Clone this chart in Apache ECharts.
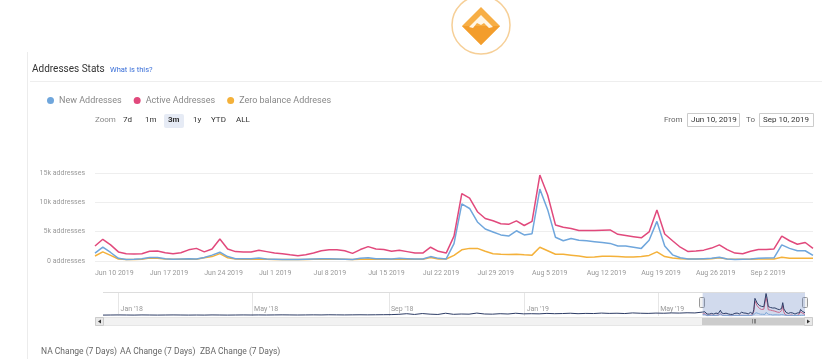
<!DOCTYPE html>
<html><head><meta charset="utf-8">
<script src="https://cdn.jsdelivr.net/npm/echarts@6/dist/echarts.min.js"></script>
<style>html,body{margin:0;padding:0;background:#fff}#c{width:831px;height:359px}</style>
</head><body><div id="c"></div>
<script>
// ---- data ----
var startDate = '2019-06-10';
var activeAddresses = [2550,3700,2750,1550,1250,1200,1250,1650,1700,1400,1250,1400,1900,2150,1550,2050,3750,2050,1600,1550,1550,1850,1600,1350,1250,1050,900,1050,1350,1750,1900,1900,1750,1300,1950,2450,2050,1950,1650,1850,1600,1350,1350,2350,1650,1350,4250,11500,10700,8400,7250,6850,6350,6250,6850,6050,6750,14650,11250,6150,5750,5550,5200,5200,5200,5250,5300,4550,4350,4150,3950,4950,8700,4600,3450,2350,1600,1700,1850,2200,2750,1950,1350,1250,1650,1950,1950,2050,4250,3450,2850,3150,2150];
var newAddresses = [1350,2350,1450,450,250,300,400,600,600,400,300,350,400,350,600,1000,1500,750,400,400,400,500,350,300,250,250,250,300,350,400,400,350,300,250,450,550,400,400,350,450,400,350,350,750,450,350,2950,9750,8950,6650,5450,4950,4450,4250,5150,4450,4650,12250,8750,4050,3450,3850,3550,3450,3300,3150,3000,2550,2550,2350,2150,3550,6750,2550,1050,550,350,350,400,450,650,350,250,300,350,450,500,550,2750,2150,1750,1750,950];
var zeroBalance = [850,1550,950,350,250,250,300,500,450,350,300,300,300,300,550,750,1250,550,350,300,300,350,300,250,250,250,250,250,300,300,300,300,300,250,300,350,300,300,300,350,300,300,300,600,350,350,950,1900,2150,2150,1650,1250,1150,1100,1150,1050,1000,2350,1750,1150,1150,1000,850,650,700,800,800,750,700,700,750,950,1550,750,500,400,350,350,350,400,550,350,300,300,300,350,350,350,650,450,450,450,450];
var seriesNames = ['New Addresses','Active Addresses','Zero balance Addreses'];
var yTicks = [0,5000,10000,15000];
// navigator history (weekly active addresses, Dec 18 2017 .. Jun 3 2019)
var navHistoryStart = '2017-12-18';
var navHistory = [600,650,700,650,600,700,650,600,650,700,650,600,650,600,700,650,600,650,700,650,700,650,700,750,700,650,700,750,700,800,750,700,750,800,750,800,850,900,1100,1500,1000,1600,1200,1000,1800,1100,1300,1200,1900,1300,1200,1500,1300,1800,1400,1500,1400,1700,1500,1600,1800,1500,1700,1600,1900,1700,1800,1600,2000,1800,1700,1900,1800,2000,1900,2100,2000];
var navTicks = ['2018-01-01','2018-05-01','2018-09-01','2019-01-01','2019-05-01'];
var zoomButtons = ['7d','1m','3m','1y','YTD','ALL'];
var bottomTexts = ['NA Change (7 Days)','AA Change (7 Days)','ZBA Change (7 Days)'];

var MON = ['Jan','Feb','Mar','Apr','May','Jun','Jul','Aug','Sep','Oct','Nov','Dec'];
var DAY = 86400000;
var t0 = Date.parse(startDate + 'T00:00:00Z');
var categories = activeAddresses.map(function(_, i){ var d = new Date(t0 + i*DAY); return MON[d.getUTCMonth()] + ' ' + d.getUTCDate() + ' ' + d.getUTCFullYear(); });
var h0 = Date.parse(navHistoryStart + 'T00:00:00Z');
var navDark = navHistory.map(function(v,i){ return [h0 + i*7*DAY, v]; }).concat(activeAddresses.map(function(v,i){ return [t0 + i*DAY, v]; }));
var navNew = newAddresses.map(function(v,i){ return [t0 + i*DAY, v]; });
var navZero = zeroBalance.map(function(v,i){ return [t0 + i*DAY, v]; });
var tEnd = t0 + (activeAddresses.length-1)*DAY;
var navTickValues = navTicks.map(function(s){ return Date.parse(s + 'T00:00:00Z'); });

var FONT = 'Roboto';
var colors = ['#6fa6dc','#e1497c','#f4b13a'];

var chart = echarts.init(document.getElementById('c'), null, {renderer:'canvas'});

var graphics = [
  // logo
  {type:'circle', shape:{cx:481, cy:25, r:29}, style:{fill:'#fff', stroke:'#f6cf97', lineWidth:1.5}},
  {type:'polygon', shape:{points:[[481,7],[500,26],[481,45],[462,26]]}, style:{fill:'#f7ae45'}},
  {type:'polygon', shape:{points:[[462,26],[500,26],[481,45]]}, style:{fill:'#f39d2c'}},
  {type:'polygon', shape:{points:[[469,27],[481,15],[493,27],[489,28],[484,23],[481,25],[477,23],[473,28]]}, style:{fill:'#fff6e6'}},
  // frame lines
  {type:'line', shape:{x1:27.5, y1:52, x2:27.5, y2:359}, style:{stroke:'#ececec', lineWidth:1}},
  {type:'line', shape:{x1:30, y1:81.5, x2:822, y2:81.5}, style:{stroke:'#eeeeee', lineWidth:1}},
  // title
  {type:'text', left:32, top:64, style:{text:'Addresses Stats', font:'10px ' + FONT, fill:'#333'}},
  {type:'text', left:110, top:66, style:{text:'What is this?', font:'7.5px ' + FONT, fill:'#3a6fd8'}},
  // zoom row
  {type:'text', left:95, top:116, style:{text:'Zoom', font:'8px ' + FONT, fill:'#888'}},
  {type:'rect', shape:{x:164, y:114, width:20, height:14, r:2}, style:{fill:'#e6ebf5'}},
  // from/to
  {type:'text', left:664, top:116, style:{text:'From', font:'8px ' + FONT, fill:'#666'}},
  {type:'rect', shape:{x:687.5, y:113.5, width:52, height:13}, style:{fill:'#fff', stroke:'#cccccc'}},
  {type:'text', left:691, top:116, style:{text:'Jun 10, 2019', font:'8px ' + FONT, fill:'#333'}},
  {type:'text', left:746, top:116, style:{text:'To', font:'8px ' + FONT, fill:'#666'}},
  {type:'rect', shape:{x:759.5, y:113.5, width:54, height:13}, style:{fill:'#fff', stroke:'#cccccc'}},
  {type:'text', left:763, top:116, style:{text:'Sep 10, 2019', font:'8px ' + FONT, fill:'#333'}},
  // scrollbar
  {type:'rect', shape:{x:95.5, y:317.5, width:717, height:8}, style:{fill:'#f2f2f2', stroke:'#e6e6e6'}},
  {type:'rect', shape:{x:95.5, y:317.5, width:8, height:8}, style:{fill:'#e8e8e8', stroke:'#cccccc'}},
  {type:'polygon', shape:{points:[[98,321.5],[101,319.5],[101,323.5]]}, style:{fill:'#333'}},
  {type:'rect', shape:{x:804.5, y:317.5, width:8, height:8}, style:{fill:'#e8e8e8', stroke:'#cccccc'}},
  {type:'polygon', shape:{points:[[810,321.5],[807,319.5],[807,323.5]]}, style:{fill:'#333'}},
  {type:'rect', shape:{x:702, y:318, width:103, height:7}, style:{fill:'#cccccc'}},
  {type:'text', left:752, top:318, style:{text:'|||', font:'6px ' + FONT, fill:'#333'}},
  // navigator frame
  {type:'line', shape:{x1:103, y1:292.5, x2:805, y2:292.5}, style:{stroke:'#dddddd', lineWidth:1}},
  // handles
  {type:'rect', shape:{x:699.5, y:297.5, width:5, height:10, r:1}, style:{fill:'#f2f2f2', stroke:'#999'}},
  {type:'rect', shape:{x:802.5, y:297.5, width:5, height:10, r:1}, style:{fill:'#f2f2f2', stroke:'#999'}}
];
var zx = [123, 145, 168, 193, 211, 236];
zoomButtons.forEach(function(b, i){
  graphics.push({type:'text', left:zx[i], top:116, style:{text:b, font:(b==='3m'?'bold ':'') + '8px ' + FONT, fill:'#333'}});
});
var bx = [41, 120, 200];
bottomTexts.forEach(function(t, i){
  graphics.push({type:'text', left:bx[i], top:347, style:{text:t, font:'8.5px ' + FONT, fill:'#666'}});
});

var option = {
  animation:false,
  color: colors,
  textStyle:{fontFamily:FONT},
  legend:{left:42, top:91, icon:'circle', itemWidth:7, itemHeight:7, itemGap:12,
    textStyle:{fontSize:9, color:'#888', fontFamily:FONT}, data:seriesNames},
  grid:[
    {left:95, right:18, top:173, bottom:98},
    {left:103, right:26, top:293, height:23}
  ],
  xAxis:[
    {type:'category', gridIndex:0, data:categories, boundaryGap:false,
     axisLine:{show:false}, axisTick:{show:false}, splitLine:{show:false},
     axisLabel:{fontSize:7, color:'#999', align:'left', margin:9, fontFamily:FONT,
       interval:function(i){ return i%7===0 && i<=84; }}},
    {type:'value', gridIndex:1, min:h0, max:tEnd,
     axisLine:{show:false}, splitLine:{show:false},
     axisTick:{show:true, inside:true, length:23, customValues:navTickValues, lineStyle:{color:'#e6e6e6'}},
     axisLabel:{show:true, inside:true, margin:3, align:'left', fontSize:7, color:'#999', fontFamily:FONT,
       customValues:navTickValues,
       formatter:function(v){ var d=new Date(v); return MON[d.getUTCMonth()] + " '" + String(d.getUTCFullYear()).slice(2); },
       padding:[0,0,0,2]}}
  ],
  yAxis:[
    {type:'value', gridIndex:0, min:yTicks[0], max:yTicks[yTicks.length-1], interval:5000,
     axisLine:{show:false}, axisTick:{show:false},
     splitLine:{lineStyle:{color:'#eeeeee'}},
     axisLabel:{fontSize:7, color:'#999', margin:10, fontFamily:FONT, padding:[0,0,5,0],
       formatter:function(v){ return v===0 ? '0 addresses' : (v/1000) + 'k addresses'; }}},
    {type:'value', gridIndex:1, min:0, max:15000, show:false, splitLine:{show:false}}
  ],
  series:[
    {name:seriesNames[0], type:'line', data:newAddresses, showSymbol:false, lineStyle:{width:1.5}, xAxisIndex:0, yAxisIndex:0, z:3},
    {name:seriesNames[1], type:'line', data:activeAddresses, showSymbol:false, lineStyle:{width:1.5}, xAxisIndex:0, yAxisIndex:0, z:4},
    {name:seriesNames[2], type:'line', data:zeroBalance, showSymbol:false, lineStyle:{width:1.5}, xAxisIndex:0, yAxisIndex:0, z:2},
    {name:'nav', type:'line', data:navDark, showSymbol:false, xAxisIndex:1, yAxisIndex:1, lineStyle:{width:1, color:'#2e3d66'}, itemStyle:{color:'#2e3d66'},
     markArea:{silent:true, itemStyle:{color:'rgba(102,133,194,0.3)'}, data:[[{xAxis:t0},{xAxis:tEnd}]]}, z:5},
    {name:'navNew', type:'line', data:navNew, showSymbol:false, xAxisIndex:1, yAxisIndex:1, lineStyle:{width:1, color:'#c96a8c'}, z:4},
    {name:'navZero', type:'line', data:navZero, showSymbol:false, xAxisIndex:1, yAxisIndex:1, lineStyle:{width:1, color:'#7fa8d8'}, z:4}
  ],
  graphic:graphics
};
chart.setOption(option);
</script>
</body></html>
